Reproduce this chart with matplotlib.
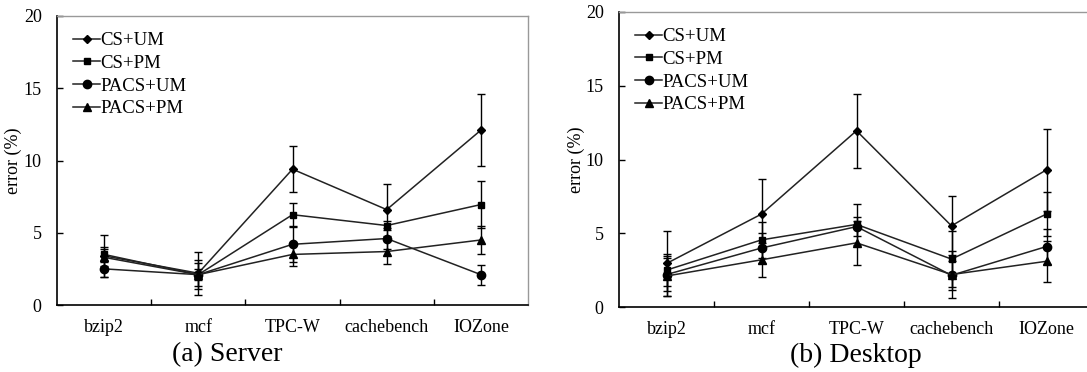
import matplotlib.pyplot as plt
from matplotlib.ticker import FixedLocator, NullFormatter

plt.rcParams['font.family'] = ['Liberation Serif', 'DejaVu Serif']

categories = ['bzip2', 'mcf', 'TPC-W', 'cachebench', 'IOZone']
series_names = ['CS+UM', 'CS+PM', 'PACS+UM', 'PACS+PM']

# (a) Server
server_cs_um = [3.4, 2.2, 9.4, 6.6, 12.1]
server_cs_um_err = [1.45, 1.5, 1.6, 1.8, 2.5]
server_cs_pm = [3.5, 2.1, 6.25, 5.5, 6.95]
server_cs_pm_err = [0.5, 0.8, 0.8, 0.3, 1.6]
server_pacs_um = [2.5, 2.1, 4.2, 4.6, 2.1]
server_pacs_um_err = [0.55, 0.4, 1.2, 0.7, 0.7]
server_pacs_pm = [3.3, 2.1, 3.5, 3.7, 4.5]
server_pacs_pm_err = [0.6, 1.0, 0.8, 0.85, 1.0]

# (b) Desktop
desktop_cs_um = [2.95, 6.3, 11.95, 5.5, 9.3]
desktop_cs_um_err = [2.2, 2.35, 2.5, 2.0, 2.8]
desktop_cs_pm = [2.5, 4.55, 5.6, 3.25, 6.3]
desktop_cs_pm_err = [1.1, 1.2, 1.4, 1.9, 1.5]
desktop_pacs_um = [2.2, 4.0, 5.45, 2.15, 4.1]
desktop_pacs_um_err = [1.1, 1.0, 0.65, 1.0, 1.2]
desktop_pacs_pm = [2.1, 3.2, 4.35, 2.2, 3.1]
desktop_pacs_pm_err = [1.35, 1.15, 1.5, 1.6, 1.4]

markers = [('D', 4.5), ('s', 5), ('o', 6), ('^', 6)]


def draw_panel(ax, values, errors):
    x = [i + 0.5 for i in range(len(categories))]
    for name, y, e, (m, ms) in zip(series_names, values, errors, markers):
        # error bars first, then the line so the legend shows no bars
        ax.errorbar(x, y, yerr=e, fmt='none', ecolor='black',
                    elinewidth=1.0, capsize=3.2, capthick=1.0)
        ax.plot(x, y, label=name, color='#222222', lw=1.1,
                marker=m, ms=ms, mfc='black', mec='black')
    ax.set_xlim(0, len(categories))
    ax.set_ylim(0, 20)
    ax.set_yticks([0, 5, 10, 15, 20])
    # tick marks between categories, labels in the middle
    ax.xaxis.set_major_locator(FixedLocator([1, 2, 3, 4]))
    ax.xaxis.set_major_formatter(NullFormatter())
    ax.xaxis.set_minor_locator(FixedLocator(x))
    ax.set_xticklabels(categories, minor=True)
    ax.tick_params(axis='x', which='major', direction='in', length=4, width=1)
    ax.tick_params(axis='x', which='minor', length=0, pad=10, labelsize=13)
    ax.tick_params(axis='y', direction='in', length=4, width=1, pad=11, labelsize=13)
    for s in ['left', 'bottom']:
        ax.spines[s].set_color('black')
        ax.spines[s].set_linewidth(1.2)
    for s in ['top', 'right']:
        ax.spines[s].set_color('#999999')
        ax.spines[s].set_linewidth(1.0)
    ax.set_ylabel('error (%)', fontsize=13)
    ax.legend(loc='upper left', frameon=False, fontsize=13.5, handlelength=1.4,
              handletextpad=0.05, labelspacing=0.3, borderaxespad=0.3,
              bbox_to_anchor=(0.007, 0.99))


fig = plt.figure(figsize=(10.87, 3.72), dpi=100)
ax1 = fig.add_axes([57 / 1087, 67 / 372, 471 / 1087, 289 / 372])
ax2 = fig.add_axes([619 / 1087, 65 / 372, 475 / 1087, 295 / 372])

draw_panel(ax1,
           [server_cs_um, server_cs_pm, server_pacs_um, server_pacs_pm],
           [server_cs_um_err, server_cs_pm_err, server_pacs_um_err, server_pacs_pm_err])
draw_panel(ax2,
           [desktop_cs_um, desktop_cs_pm, desktop_pacs_um, desktop_pacs_pm],
           [desktop_cs_um_err, desktop_cs_pm_err, desktop_pacs_um_err, desktop_pacs_pm_err])
ax1.yaxis.set_label_coords(-35 / 471, 0.5)
ax2.yaxis.set_label_coords(-34 / 475, 0.5)

fig.text(227 / 1087, 1 - 355 / 372, '(a) Server', fontsize=20, ha='center', va='center')
fig.text(856 / 1087, 1 - 355 / 372, '(b) Desktop', fontsize=20, ha='center', va='center')

plt.savefig('out.png', dpi=100)
